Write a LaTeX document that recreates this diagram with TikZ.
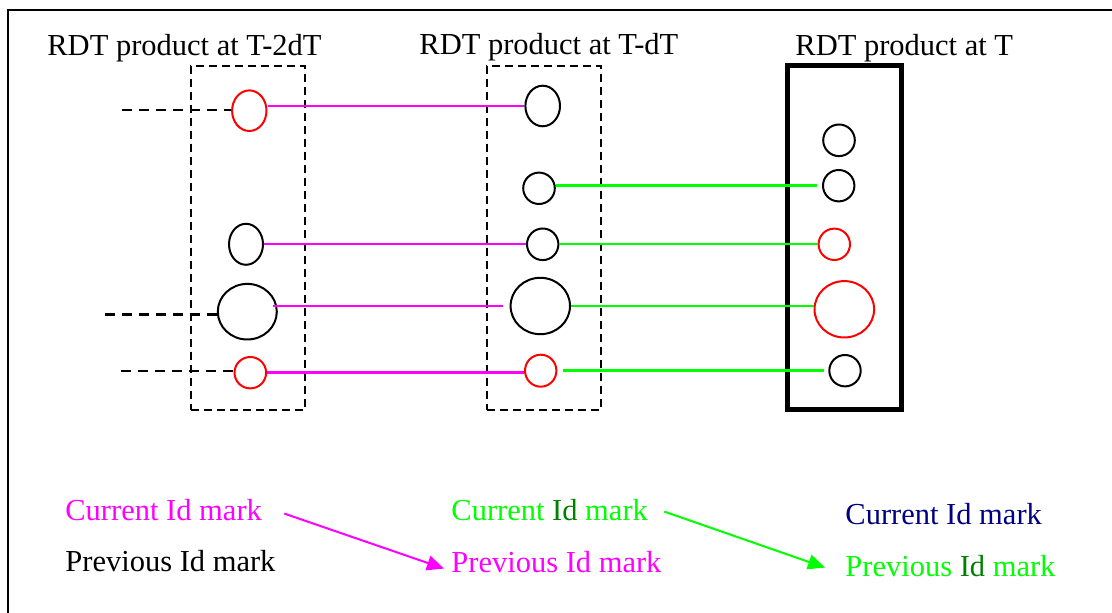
\documentclass[tikz,border=0pt]{standalone}
\usepackage{fontspec}
\setmainfont{Liberation Serif}
\usetikzlibrary{shapes.geometric,arrows.meta}
\definecolor{idpink}{RGB}{255,0,255}
\definecolor{idgreen}{RGB}{0,255,0}
\definecolor{iddark}{RGB}{0,128,0}
\definecolor{idnavy}{RGB}{0,0,128}
\begin{document}
\begin{tikzpicture}[x=0.5pt, y=-0.5pt,
    txt/.style={anchor=base west, inner sep=0pt, font=\fontsize{15.25}{18}\selectfont},
    oval/.style 2 args={ellipse, draw, line width=1pt, inner sep=0pt, minimum width=#1pt, minimum height=#2pt},
    slot/.style={draw, line width=1pt, dash pattern=on 4pt off 2.5pt, minimum width=57pt, minimum height=172pt, inner sep=0pt},
    pinkline/.style={idpink, line width=1.2pt},
    greenline/.style={idgreen, line width=1.2pt},
    lead/.style={line width=1.4pt, dash pattern=on 5pt off 3.5pt},
    tip/.style={line width=1pt, -{Triangle[length=8.5pt,width=7.5pt]}}]
\useasboundingbox (0,0) rectangle (1112,613);
\clip (0,0) rectangle (1112,613);
\draw[line width=0.8pt] (8,10) rectangle (1140,640);

\node[txt] (title2) at (47,56) {RDT product at T-2dT};
\node[txt] (title1) at (419,55) {RDT product at T-dT};
\node[txt] (title0) at (795,56) {RDT product at T};

\node[slot] (box2) at (248,238) {};
\node[slot] (box1) at (544,238) {};
\node[slot, line width=2.5pt, dash pattern=] (box0) at (844,238) {};

\foreach \n/\x/\y/\w/\h/\c in {old1/249.3/110.7/17.2/20.3/red, old2/246/244.3/17/20.5/black,
    old3/247.3/311.7/29.5/27.8/black, old4/250.3/372.7/15.8/15.7/red,
    mid1/542.7/106/17.3/20.3/black, mid2/539/188.3/15.8/15.7/black, mid3/542.7/244.3/15.7/15.8/black,
    mid4/540.3/306/29.7/28.2/black, mid5/540.7/370.7/15.7/16/red,
    new1/839/140.3/15.8/15.8/black, new2/838.7/185.7/15.7/15.7/black, new3/834.3/244.3/15.7/15.7/red,
    new4/844.3/309.3/29.8/28.2/red, new5/845/370.7/15.7/15.7/black} {
  \node[oval={\w}{\h}, draw=\c] (\n) at (\x,\y) {};
}

\coordinate (in1) at (122,110);
\coordinate (in3) at (105,314.7);
\coordinate (in4) at (121,371);
\draw[lead] (in1) -- (in1 -| old1.west);
\draw[lead] (in3) -- (in3 -| old3.west);
\draw[lead] (in4) -- (in4 -| old4.west);

\draw[pinkline] (old1.east |- mid1) -- (mid1.west);
\draw[pinkline] (old2) -- (mid3);
\draw[pinkline] ([xshift=-2.5pt]old3.east |- mid4) -- ([xshift=-3.5pt]mid4.west);
\draw[pinkline] (old4) -- (old4 -| mid5.west);

\draw[greenline] (mid2.east |- new2) -- ([xshift=-2.5pt]new2.west);
\draw[greenline] (mid3) -- (new3);
\draw[greenline] (mid4.east) -- (mid4.east -| new4.west);
\draw[greenline] ([xshift=3pt]mid5.east) -- ([xshift=-2pt]new5.west);

\node[txt, idpink] (curA) at (65,521) {Current Id mark};
\node[txt] (prevA) at (65,572) {Previous Id mark};
\node[txt, idgreen] (curB) at (451,521) {Current \textcolor{iddark}{Id} mark};
\node[txt, idpink] (prevB) at (451,573) {Previous Id mark};
\node[txt, idnavy] (curC) at (845,524) {Current Id mark};
\node[txt, idgreen] (prevC) at (845,576) {Previous \textcolor{iddark}{Id} mark};

\draw[tip, idpink] ([xshift=11pt,yshift=-1.5pt]curA.east) -- ([xshift=-3.5pt,yshift=-3pt]prevB.west);
\draw[tip, idgreen] ([xshift=8pt,yshift=-0.5pt]curB.east) -- ([xshift=-10pt,yshift=-1pt]prevC.west);
\end{tikzpicture}
\end{document}
